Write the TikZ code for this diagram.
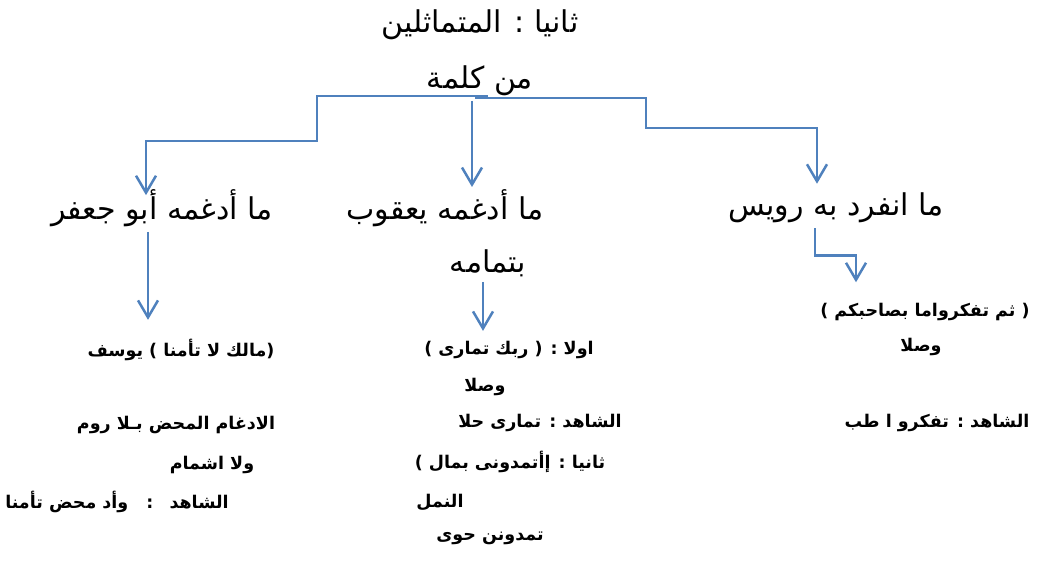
\documentclass[tikz,border=0pt]{standalone}
\usepackage{fontspec}
\newfontfamily\arabicfont[Script=Arabic]{DejaVu Sans}
\TeXXeTstate=1
\usetikzlibrary{arrows.meta, calc}
\definecolor{linkblue}{RGB}{79,129,189}
\newcommand{\rl}[1]{\beginR #1\endR}

\begin{document}
\begin{tikzpicture}[x=1pt, y=-1pt,
    bigtext/.style={font=\arabicfont\fontsize{30}{53}\selectfont, inner sep=0pt, align=center},
    smalltext/.style={font=\arabicfont\bfseries\fontsize{17.5}{20}\selectfont, inner sep=0pt},
    link/.style={draw=linkblue, line width=2.5pt},
    arr/.style={link, -{Straight Barb[length=17pt,width=20pt]}}]
\useasboundingbox (0,0) rectangle (1037,561);

% headings
\node[bigtext, anchor=south, font=\arabicfont\fontsize{30}{56}\selectfont] (root) at (480,96) {\rl{ثانيا : المتماثلين}\\\rl{من كلمة}};
\node[bigtext] (abu) at (162,208) {\rl{ما أدغمه أبو جعفر}};
\node[bigtext] (yaq) at (445,233) {\rl{ما أدغمه يعقوب}\\\hspace*{86pt}\rl{بتمامه}};
\node[bigtext] (ruw) at (836,208) {\rl{ما انفرد به رويس}};

% left column
\node[smalltext] (yusuf) at (181,350) {\rl{(مالك لا تأمنا ) يوسف}};
\node[smalltext] (idgham) at (176,425) {\rl{الادغام المحض بـلا روم}};
\node[smalltext] (ishmam) at (212,465) {\rl{ولا اشمام}};
\node[smalltext] (shahidA) at (117,502) {\rl{الشاهد\hspace{10pt} :\hspace{10pt} وأد محض تأمنا}};

% middle column
\node[smalltext] (awwal) at (509,350) {\rl{اولا : ( ربك تمارى )}};
\node[smalltext] (waslB) at (485,387) {\rl{وصلا}};
\node[smalltext] (shahidB) at (540,423) {\rl{الشاهد : تمارى حلا}};
\node[smalltext] (thani) at (510,462) {\rl{ثانيا : إأتمدونى بمال )}};
\node[smalltext] (naml) at (440,502) {\rl{النمل}};
\node[smalltext] (tumid) at (490,538) {\rl{تمدونن حوى}};

% right column
\node[smalltext] (tafak) at (925,312) {\rl{( ثم تفكرواما بصاحبكم )}};
\node[smalltext] (waslC) at (921,347) {\rl{وصلا}};
\node[smalltext] (shahidC) at (937,423) {\rl{الشاهد : تفكرو ا طب}};

% connectors
\draw[arr] ([xshift=8]root.south) -- ++(-171,0) -- ++(0,45) -| ([xshift=-16,yshift=-6]abu.north);
\draw[arr] ([xshift=-8,yshift=-5]root.south) -- ++(0,86);
\draw[arr] ([xshift=-5,yshift=-2]root.south) -- ++(171,0) -- ++(0,30) -| ([xshift=-19,yshift=9]ruw.north);

\draw[arr] ([xshift=-14,yshift=-5]abu.south) -- ++(0,88);
\draw[arr] ([xshift=38,yshift=-5]yaq.south) -- ++(0,49);
\draw[arr] ([xshift=-21,yshift=-5]ruw.south) -- ++(0,27) -| ++(41,27);
\end{tikzpicture}
\end{document}
